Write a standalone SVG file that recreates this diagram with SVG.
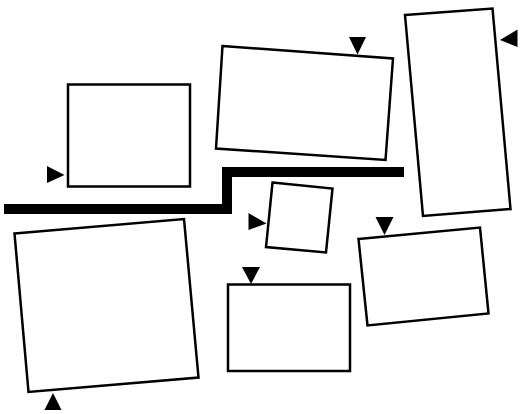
<svg xmlns="http://www.w3.org/2000/svg" width="520" height="414" viewBox="0 0 520 414">
<style>
.box{fill:#fff;stroke:#000;stroke-width:2.5;stroke-linejoin:miter}
.tri{fill:#000;stroke:none}
.wall{fill:none;stroke:#000;stroke-width:10;stroke-linejoin:miter;stroke-linecap:butt}
</style>
<rect width="520" height="414" fill="#fff"/>
<g id="connectors">
<polyline class="wall" points="4,209 227,209 227,172 404,172"/>
</g>
<g id="node1">
<rect class="box" x="68" y="84.5" width="122" height="102"/>
<polygon class="tri" points="47,166 47,183 64.5,175"/>
</g>
<g id="node2">
<polygon class="box" points="222.5,46 393,58.5 385.5,160 216,148.5"/>
<polygon class="tri" points="349,37 366,37 357.5,54.5"/>
</g>
<g id="node3">
<polygon class="box" points="405,15 492.5,8.5 510.5,209 423,216"/>
<polygon class="tri" points="500,40 517.5,29.5 517.5,47"/>
</g>
<g id="node4">
<polygon class="box" points="14.5,233.5 184,219 198.5,377.5 28.5,392"/>
<polygon class="tri" points="44.5,410 61.5,410 53,393"/>
</g>
<g id="node5">
<polygon class="box" points="272.5,182.5 332.5,188.5 326,252.5 266,247"/>
<polygon class="tri" points="248.5,213 248.5,230 266.5,223.5"/>
</g>
<g id="node6">
<rect class="box" x="228" y="284.5" width="122" height="86.5"/>
<polygon class="tri" points="242,267 260,267 251,284"/>
</g>
<g id="node7">
<polygon class="box" points="358.5,239 480,227.5 488.5,313.5 367.5,325.5"/>
<polygon class="tri" points="375.5,217 393.5,217 384.5,235"/>
</g>
</svg>
